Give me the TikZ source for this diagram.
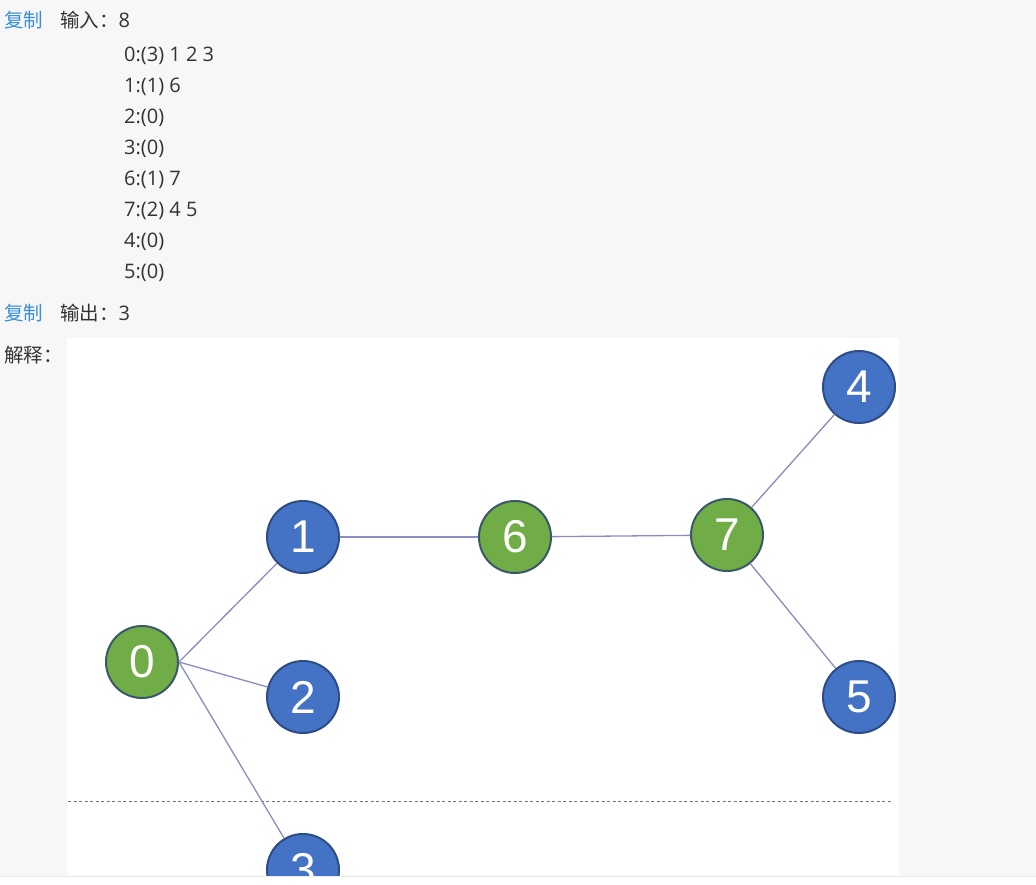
\documentclass[tikz,border=0pt]{standalone}
\usepackage{fontspec}
\setmainfont{Open Sans}
\newfontfamily\cjk{Noto Sans CJK SC}
\newfontfamily\numfont{Liberation Sans}

\definecolor{pagegray}{HTML}{F7F7F8}
\definecolor{copyblue}{HTML}{3A8EDC}
\definecolor{txtgray}{HTML}{333333}
\definecolor{leafblue}{HTML}{4472C4}
\definecolor{leafedge}{HTML}{2E4C86}
\definecolor{midgreen}{HTML}{70AD47}
\definecolor{midedge}{HTML}{3B5868}
\definecolor{linkcol}{HTML}{8A8CC0}

\tikzset{
  leaf/.style={circle, fill=leafblue, draw=leafedge, line width=2pt,
    minimum size=72pt, inner sep=0pt, text=white,
    font=\numfont\fontsize{46}{46}\selectfont},
  inner/.style={leaf, fill=midgreen, draw=midedge},
  link/.style={draw=linkcol, line width=1.3pt},
  txt/.style={anchor=base west, inner sep=0pt, text=txtgray,
    font=\fontsize{20}{20}\selectfont},
  copy/.style={txt, text=copyblue}
}
\newcommand{\zh}[1]{{\cjk\fontsize{19.5}{19.5}\selectfont #1}}

\begin{document}
\begin{tikzpicture}
    \pgfsetxvec{\pgfpoint{1pt}{0}}
    \pgfsetyvec{\pgfpoint{0}{-1pt}}

    \useasboundingbox (0,0) rectangle (1036,885);
    \fill[pagegray] (0,0) rectangle (1036,885);
    \fill[white] (67,338) rectangle (899,875);
    \fill[white] (0,876) rectangle (1036,885);
    \draw[black!8] (0,876) -- (1036,876);

    % sample input / output
    \node[copy] (copyin) at (4,28) {\zh{复制}};
    \node[txt] (inhead) at (60,28) {\zh{输入：}8};
    \foreach \s [count=\i] in {{0:(3) 1 2 3},{1:(1) 6},{2:(0)},{3:(0)},
        {6:(1) 7},{7:(2) 4 5},{4:(0)},{5:(0)}} {
      \node[txt] (line\i) at (124,31+31*\i) {\s};
    }
    \node[copy] (copyout) at (4,320) {\zh{复制}};
    \node[txt] (outhead) at (60,320) {\zh{输出：}3};
    \node[txt] (explain) at (4,362) {\zh{解释：}};

    \begin{scope}
      \clip (67,338) rectangle (899,875);
      \draw[black!55, dash pattern=on 3pt off 2.5pt, line width=0.8pt]
        (68,801) -- (893,801);

      \node[inner] (n0) at (142,662) {0};
      \node[leaf]  (n1) at (303,537) {1};
      \node[leaf]  (n2) at (303,697) {2};
      \node[leaf]  (n3) at (303,870) {3};
      \node[inner] (n6) at (515,537) {6};
      \node[inner] (n7) at (727,535) {7};
      \node[leaf]  (n4) at (859,387) {4};
      \node[leaf]  (n5) at (859,697) {5};

      \foreach \b in {n1,n2,n3} {
        \draw[link] (n0.east) -- (\b);
      }
      \foreach \a/\b in {n1/n6,n6/n7,n7/n4,n7/n5} {
        \draw[link] (\a) -- (\b);
      }
    \end{scope}
  \end{tikzpicture}
\end{document}
